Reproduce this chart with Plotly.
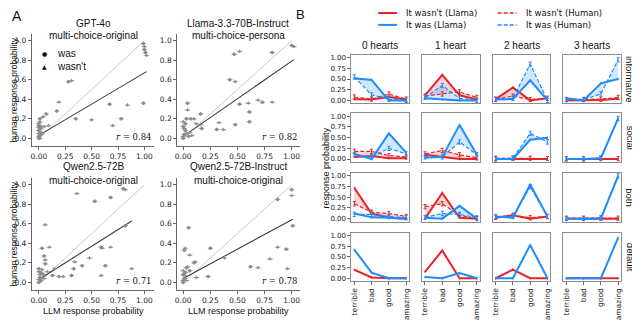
import plotly.graph_objects as go

# the page keeps an 8px body margin, so the figure fills the rest of the window
PAGE_W, PAGE_H, OFF = 640, 321, 8
W, H = PAGE_W - OFF, PAGE_H - OFF
TEXT_FONT = "Liberation Sans, Arial, sans-serif"
TICK_FONT = "DejaVu Sans, sans-serif"

RED = "#e3262b"
BLUE = "#1e8cff"
RED_FILL = "rgba(227,38,43,0.2)"
BLUE_FILL = "rgba(30,140,255,0.2)"
POINT = "#858585"

# ---- panel A: LLM vs human response probability ----
A_MODEL = ["GPT-4o", "Llama-3.3-70B-Instruct", "Qwen2.5-72B", "Qwen2.5-72B-Instruct"]
A_PROMPT = ["multi-choice-original", "multi-choice-persona", "multi-choice-original", "multi-choice-original"]
A_R = [0.84, 0.82, 0.71, 0.78]
A_FIT_B0 = [0.03, 0.02, 0.03, 0.04]
A_FIT_B1 = [0.64, 0.77, 0.68, 0.60]

A_WAS_X = [
    [0.0, 0.01, 0.0, 0.02, 0.0, 0.01, 0.03, 0.0, 0.07, 0.17, 0.28, 0.35, 0.67, 0.78, 0.99, 1.0, 1.01, 0.99],
    [0.0, 0.01, 0.02, 0.0, 0.03, 0.04, 0.07, 0.16, 0.17, 0.31, 0.48, 0.43, 0.52, 0.61, 0.61, 0.82, 0.73, 1.0, 0.47, 0.02, 0.05],
    [0.0, 0.01, 0.02, 0.0, 0.03, 0.05, 0.06, 0.13, 0.19, 0.31, 0.33, 0.41, 0.53, 0.59, 0.63, 0.68, 0.8, 0.82, 0.02, 0.04],
    [0.0, 0.01, 0.01, 0.03, 0.05, 0.06, 0.1, 0.25, 0.23, 0.62, 0.87, 0.95, 1.0, 1.01, 0.0, 0.02],
]
A_WAS_Y = [
    [0.0, 0.03, 0.08, 0.12, 0.15, 0.2, 0.05, 0.11, 0.25, 0.28, 0.58, 0.2, 0.35, 0.2, 0.97, 0.91, 0.88, 0.36],
    [0.0, 0.04, 0.08, 0.12, 0.2, 0.36, 0.2, 0.25, 0.1, 0.09, 0.14, 0.6, 0.35, 0.27, 0.17, 0.88, 0.37, 0.95, 0.86, 0.15, 0.02],
    [0.0, 0.05, 0.1, 0.14, 0.35, 0.27, 0.19, 0.07, 0.06, 0.07, 0.14, 0.17, 0.83, 0.36, 0.17, 0.87, 0.96, 0.58, 0.02, 0.08],
    [0.0, 0.04, 0.33, 0.15, 0.56, 0.12, 0.2, 0.35, 0.06, 0.16, 0.85, 0.34, 0.95, 0.58, 0.08, 0.1],
]
A_WASNT_X = [
    [0.0, 0.01, 0.02, 0.0, 0.01, 0.04, 0.05, 0.09, 0.19, 0.31, 0.5, 0.7, 0.84, 1.0, 1.02, 0.0, 0.02],
    [0.0, 0.01, 0.03, 0.04, 0.1, 0.12, 0.16, 0.33, 0.37, 0.48, 0.52, 0.6, 0.69, 0.82, 1.02, 0.06, 0.08, 0.0],
    [0.0, 0.01, 0.03, 0.06, 0.1, 0.06, 0.08, 0.15, 0.23, 0.34, 0.36, 0.48, 0.59, 0.6, 0.68, 0.82, 0.88, 0.0, 0.05],
    [0.0, 0.01, 0.02, 0.04, 0.06, 0.11, 0.12, 0.38, 0.69, 0.8, 0.87, 0.96, 1.0, 0.03, 0.0],
]
A_WASNT_Y = [
    [0.02, 0.0, 0.06, 0.13, 0.17, 0.22, 0.12, 0.13, 0.37, 0.59, 0.19, 0.13, 0.34, 0.94, 0.85, 0.05, 0.1],
    [0.02, 0.1, 0.05, 0.29, 0.2, 0.15, 0.14, 0.16, 0.09, 0.58, 0.89, 0.36, 0.39, 0.37, 0.94, 0.06, 0.03, 0.17],
    [0.03, 0.08, 0.13, 0.59, 0.36, 0.23, 0.11, 0.14, 0.06, 0.21, 0.91, 0.25, 0.07, 0.35, 0.36, 0.95, 0.14, 0.11, 0.04],
    [0.02, 0.07, 0.35, 0.16, 0.28, 0.21, 0.05, 0.25, 0.15, 0.24, 0.36, 0.14, 0.89, 0.02, 0.12],
]

# ---- panel B: response distributions per goal (rows) and hearts (columns) ----
B_HEARTS = ["0 hearts", "1 heart", "2 hearts", "3 hearts"]
B_GOALS = ["informative", "social", "both", "default"]
B_RATINGS = ["terrible", "bad", "good", "amazing"]

LLAMA_WASNT = [
    [[0.03, 0.02, 0.08, 0.02], [0.12, 0.6, 0.12, 0.02], [0.03, 0.3, 0.0, 0.05], [0.0, 0.0, 0.01, 0.04]],
    [[0.05, 0.07, 0.02, 0.02], [0.1, 0.05, 0.0, 0.0], [0.0, 0.0, 0.0, 0.0], [0.0, 0.0, 0.0, 0.0]],
    [[0.72, 0.12, 0.02, 0.0], [0.0, 0.6, 0.02, 0.0], [0.02, 0.08, 0.0, 0.05], [0.0, 0.0, 0.0, 0.0]],
    [[0.2, 0.02, 0.0, 0.0], [0.15, 0.65, 0.0, 0.0], [0.0, 0.2, 0.0, 0.0], [0.0, 0.0, 0.0, 0.0]],
]
LLAMA_WAS = [
    [[0.52, 0.48, 0.0, 0.0], [0.05, 0.02, 0.0, 0.0], [0.02, 0.03, 0.47, 0.0], [0.05, 0.0, 0.4, 0.5]],
    [[0.12, 0.0, 0.6, 0.15], [0.03, 0.05, 0.8, 0.1], [0.0, 0.0, 0.45, 0.5], [0.0, 0.0, 0.02, 0.95]],
    [[0.12, 0.03, 0.02, 0.0], [0.02, 0.0, 0.3, 0.0], [0.05, 0.02, 0.8, 0.05], [0.0, 0.0, 0.0, 1.0]],
    [[0.67, 0.13, 0.0, 0.0], [0.03, 0.0, 0.12, 0.0], [0.0, 0.0, 0.78, 0.0], [0.0, 0.0, 0.0, 0.95]],
]
HUMAN_WASNT = [
    [[0.08, 0.03, 0.15, 0.03], [0.1, 0.15, 0.2, 0.07], [0.03, 0.1, 0.02, 0.05], [0.02, 0.02, 0.03, 0.07]],
    [[0.18, 0.18, 0.08, 0.05], [0.12, 0.2, 0.1, 0.03], [0.02, 0.02, 0.02, 0.01], [0.01, 0.01, 0.01, 0.01]],
    [[0.35, 0.15, 0.12, 0.05], [0.28, 0.35, 0.08, 0.0], [0.03, 0.08, 0.02, 0.05], [0.01, 0.01, 0.01, 0.01]],
    None,
]
HUMAN_WAS = [
    [[0.55, 0.13, 0.03, 0.0], [0.07, 0.35, 0.05, 0.0], [0.02, 0.05, 0.85, 0.0], [0.02, 0.02, 0.15, 0.95]],
    [[0.1, 0.05, 0.25, 0.12], [0.05, 0.05, 0.4, 0.1], [0.0, 0.02, 0.6, 0.4], [0.0, 0.0, 0.03, 0.95]],
    [[0.1, 0.1, 0.05, 0.02], [0.03, 0.12, 0.1, 0.02], [0.05, 0.05, 0.75, 0.05], [0.0, 0.0, 0.02, 1.0]],
    None,
]
HUMAN_ERR = 0.05
LLAMA_ERR = 0.03

LEGEND_ITEMS = ["It wasn't (Llama)", "It was (Llama)", "It wasn't (Human)", "It was (Human)"]


# positions below are given in window pixels and shifted by the page margin
def fx(px):
    return (px - OFF) / W


def fy(py):
    return 1 - (py - OFF) / H


def xdom(a, b):
    return [fx(a), fx(b)]


def ydom(top, bottom):
    return [fy(bottom), fy(top)]


def ax_id(n):
    return "" if n == 1 else str(n)


def label(text, px, py, size, anchor="center", angle=0, family=TEXT_FONT):
    return dict(text=text, x=fx(px), y=fy(py), xref="paper", yref="paper", showarrow=False,
                xanchor=anchor, yanchor="middle", textangle=angle,
                font=dict(family=family, size=size, color="#111"))


fig = go.Figure()
layout = {}
annotations = []
shapes = []

# ---------- panel A ----------
A_BOX = [(30, 153, 33, 146), (176, 299, 33, 146), (30, 153, 178, 291), (176, 299, 178, 291)]
A_TITLE_Y = [(23, 35), (23, 35), (167, 181), (167, 181)]

for i in range(4):
    sid = ax_id(i + 1)
    x0, x1, y0, y1 = A_BOX[i]
    xr = [-0.066, 1.094] if i % 2 == 0 else [-0.055, 1.073]
    common = dict(showline=True, linecolor="#666", linewidth=1, ticks="outside", ticklen=3,
                  tickcolor="#666", showgrid=False, zeroline=False,
                  tickfont=dict(family=TICK_FONT, size=7.5, color="#222"))
    layout[f"xaxis{sid}"] = dict(
        domain=xdom(x0, x1), anchor=f"y{sid}", range=xr,
        tickvals=[0, 0.25, 0.5, 0.75, 1.0], ticktext=["0.00", "0.25", "0.50", "0.75", "1.00"], **common)
    layout[f"yaxis{sid}"] = dict(
        domain=ydom(y0, y1), anchor=f"x{sid}", range=[-0.08, 1.07],
        tickvals=[0, 0.2, 0.4, 0.6, 0.8, 1.0], ticktext=["0.0", "0.2", "0.4", "0.6", "0.8", "1.0"], **common)
    xa, ya = f"x{sid}", f"y{sid}"

    # identity line and fitted line
    fig.add_trace(go.Scatter(x=[0, 1], y=[0, 1], mode="lines", xaxis=xa, yaxis=ya,
                             line=dict(color="#c4c4c4", width=0.9), showlegend=False, hoverinfo="skip"))
    xmax = max(A_WAS_X[i] + A_WASNT_X[i])
    fig.add_trace(go.Scatter(x=[0, xmax], y=[A_FIT_B0[i], A_FIT_B0[i] + A_FIT_B1[i] * xmax],
                             mode="lines", xaxis=xa, yaxis=ya,
                             line=dict(color="#3a3a3a", width=1.1), showlegend=False, hoverinfo="skip"))
    for xs, ys, sym in [(A_WAS_X[i], A_WAS_Y[i], "circle"), (A_WASNT_X[i], A_WASNT_Y[i], "triangle-up")]:
        fig.add_trace(go.Scatter(
            x=xs, y=ys, mode="markers", xaxis=xa, yaxis=ya, showlegend=False,
            marker=dict(symbol=sym, size=3.5, color=POINT, opacity=0.85),
            error_x=dict(type="constant", value=0.025, color="#9a9a9a", thickness=0.9, width=0),
            error_y=dict(type="constant", value=0.018, color="#9a9a9a", thickness=0.9, width=0),
        ))

    cx = (x0 + x1) / 2
    ty1, ty2 = A_TITLE_Y[i]
    annotations.append(label(A_MODEL[i], cx, ty1, 10))
    annotations.append(label(A_PROMPT[i], cx, ty2, 10))
    annotations.append(dict(text=f"<i>r</i> = {A_R[i]:.2f}", x=1.0, y=0.08,
                            xref=f"{xa} domain", yref=f"{ya} domain", showarrow=False,
                            xanchor="right", yanchor="middle",
                            font=dict(family="DejaVu Serif, serif", size=8.5, color="#111")))
    if i % 2 == 0:
        annotations.append(label("human response probability", 12.5, (y0 + y1) / 2, 8.5, angle=-90))
    if i >= 2:
        annotations.append(label("LLM response probability", cx, 312, 9))

# was / wasn't key in the first scatter
for text, sym, ty in [("was", "\u25cf", 53), ("wasn't", "\u25b2", 66)]:
    annotations.append(label(sym, 43, ty, 6, family=TICK_FONT))
    annotations.append(label(text, 53, ty, 10, anchor="left"))

# ---------- panel B ----------
B_COL_X = [351, 422, 493, 564]
B_ROW_Y = [54, 113, 173, 233]
B_W, B_H = 58, 49

for r in range(4):
    for c in range(4):
        sid = ax_id(5 + r * 4 + c)
        xa, ya = f"x{sid}", f"y{sid}"
        left, top = B_COL_X[c], B_ROW_Y[r]
        layout[f"xaxis{sid}"] = dict(
            domain=xdom(left, left + B_W), anchor=ya, type="category",
            categoryorder="array", categoryarray=B_RATINGS, range=[-0.17, 3.17],
            showline=True, mirror=True, linecolor="#8c8c8c", linewidth=1,
            ticks="outside" if r == 3 else "", ticklen=3, tickcolor="#666",
            showticklabels=(r == 3), tickangle=-90,
            tickfont=dict(family=TICK_FONT, size=7.5, color="#222"),
            showgrid=False, zeroline=False,
        )
        layout[f"yaxis{sid}"] = dict(
            domain=ydom(top, top + B_H), anchor=xa, range=[-0.07, 1.07],
            tickvals=[0, 0.25, 0.5, 0.75, 1.0], ticktext=["0.00", "0.25", "0.50", "0.75", "1.00"],
            showline=True, mirror=True, linecolor="#8c8c8c", linewidth=1,
            ticks="outside" if c == 0 else "", ticklen=3, tickcolor="#666",
            showticklabels=(c == 0), tickfont=dict(family=TICK_FONT, size=7, color="#222"),
            showgrid=False, zeroline=False,
        )

        groups = [(LLAMA_WASNT, HUMAN_WASNT, RED, RED_FILL), (LLAMA_WAS, HUMAN_WAS, BLUE, BLUE_FILL)]
        for llama, human, color, fill in groups:
            fig.add_trace(go.Scatter(
                x=B_RATINGS, y=llama[r][c], mode="lines", xaxis=xa, yaxis=ya, showlegend=False,
                line=dict(color=color, width=2),
                error_y=dict(type="constant", value=LLAMA_ERR, color=color, thickness=1, width=0),
            ))
            if human[r] is not None:
                fig.add_trace(go.Scatter(
                    x=B_RATINGS, y=human[r][c], mode="lines", xaxis=xa, yaxis=ya, showlegend=False,
                    line=dict(color=color, width=1.2, dash="4px,2px"), fill="tonexty", fillcolor=fill,
                    error_y=dict(type="constant", value=HUMAN_ERR, color=color, thickness=1, width=1.5),
                ))

        if r == 0:
            annotations.append(label(B_HEARTS[c], left + B_W / 2, 45, 10))
    annotations.append(label(B_GOALS[r], 631, B_ROW_Y[r] + B_H / 2, 9.5, angle=90))

annotations.append(label("response probability", 325, 168, 9, angle=-90))

# legend for panel B: two columns of line samples + labels
LEG_POS = [(378, 12), (378, 24), (498, 12), (498, 24)]
LEG_STYLE = [(RED, "solid"), (BLUE, "solid"), (RED, "4px,2px"), (BLUE, "4px,2px")]
for text, (lx, ly), (color, dash) in zip(LEGEND_ITEMS, LEG_POS, LEG_STYLE):
    shapes.append(dict(type="line", xref="paper", yref="paper",
                       x0=fx(lx), x1=fx(lx + 19), y0=fy(ly), y1=fy(ly),
                       line=dict(color=color, width=2 if dash == "solid" else 1.5, dash=dash)))
    annotations.append(label(text, lx + 26, ly, 8.5, anchor="left", family=TICK_FONT))

# panel letters
annotations.append(label("A", 15, 15, 14))
annotations.append(label("B", 300, 14, 13))

fig.update_layout(
    **layout,
    width=W, height=H, autosize=False,
    margin=dict(l=0, r=0, t=0, b=0),
    paper_bgcolor="white", plot_bgcolor="white",
    annotations=annotations,
    shapes=shapes,
    showlegend=False,
)

fig.write_html("out.html")
